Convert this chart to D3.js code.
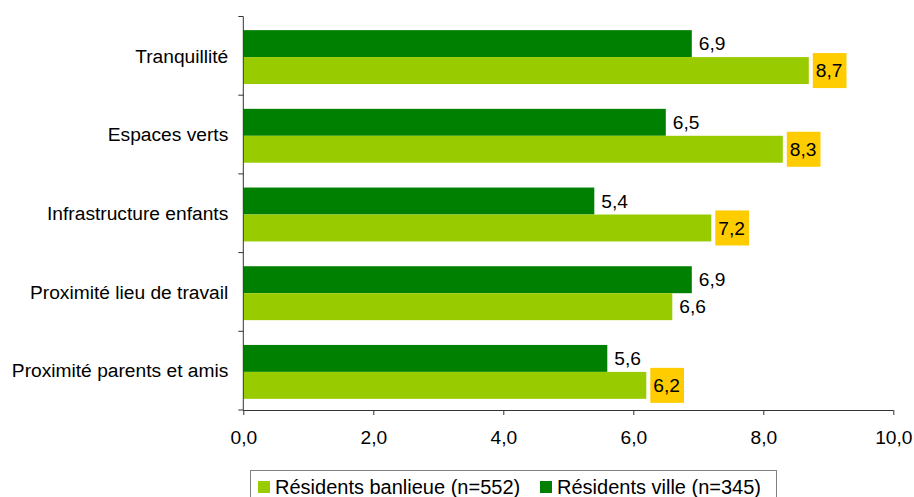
<!DOCTYPE html>
<html>
<head>
<meta charset="utf-8">
<script src="https://cdn.jsdelivr.net/npm/d3@7"></script>
<style>
  html, body { margin: 0; padding: 0; background: #fff; }
  svg { display: block; font-family: "Liberation Sans", Arial, sans-serif; }
</style>
</head>
<body>
<svg id="chart" width="914" height="497"></svg>
<script>
// Motifs de choix du lieu de résidence (note moyenne sur 10)
const categories = [
  "Tranquillité",
  "Espaces verts",
  "Infrastructure enfants",
  "Proximité lieu de travail",
  "Proximité parents et amis"
];
const villeValues    = [6.9, 6.5, 5.4, 6.9, 5.6];
const banlieueValues = [8.7, 8.3, 7.2, 6.6, 6.2];
const xTicks = [0, 2, 4, 6, 8, 10];
const seriesNames = ["Résidents banlieue (n=552)", "Résidents ville (n=345)"];

const colors = { ville: "#008000", banlieue: "#99CC00", highlight: "#FFCC00" };
const fontSize = 19.2;
const legendFontSize = 20;

const svg = d3.select("#chart");
const plotLeft = 243.3, plotRight = 893.3, plotTop = 16.5, plotBottom = 410;

const x = d3.scaleLinear().domain([0, 10]).range([plotLeft, plotRight]);
const y0 = d3.scaleBand().domain(categories).range([plotTop, plotBottom]).padding(0);
const y1 = d3.scaleBand().domain(["ville", "banlieue"])
  .range([0, y0.bandwidth()]).paddingInner(0).paddingOuter(0.46).align(0.55);

const fmt = v => d3.format(".1f")(v).replace(".", ",");

const rows = categories.map((c, i) => ({
  cat: c, ville: villeValues[i], banlieue: banlieueValues[i]
}));

// Barres
const groups = svg.append("g").selectAll("g").data(rows).join("g")
  .attr("transform", d => `translate(0,${y0(d.cat)})`);

["ville", "banlieue"].forEach(key => {
  groups.append("rect")
    .attr("x", x(0))
    .attr("y", y1(key))
    .attr("width", d => x(d[key]) - x(0))
    .attr("height", y1.bandwidth())
    .attr("fill", colors[key]);
});

// Étiquettes de valeur
groups.append("text")
  .attr("x", d => x(d.ville) + 7)
  .attr("y", y1("ville") + y1.bandwidth() / 2)
  .attr("dy", "0.35em")
  .attr("font-size", fontSize)
  .attr("fill", "#000")
  .text(d => fmt(d.ville));

groups.each(function(d) {
  const g = d3.select(this);
  const cy = y1("banlieue") + y1.bandwidth() / 2;
  const bg = g.append("rect").attr("fill", colors.highlight);
  const t = g.append("text")
    .attr("x", x(d.banlieue) + 7)
    .attr("y", cy)
    .attr("dy", "0.35em")
    .attr("font-size", fontSize)
    .attr("fill", "#000")
    .text(fmt(d.banlieue));
  if (d.banlieue > d.ville) {
    const bb = t.node().getBBox();
    bg.attr("x", bb.x - 3).attr("y", cy - 17.5)
      .attr("width", bb.width + 7).attr("height", 35);
  } else {
    bg.remove();
  }
});

// Axe des abscisses
const xAxis = svg.append("g")
  .attr("transform", `translate(0,${plotBottom})`)
  .call(d3.axisBottom(x).tickValues(xTicks).tickSize(5).tickPadding(15).tickFormat(fmt));
xAxis.select(".domain").attr("stroke", "#333").attr("d", `M${plotLeft},0.5H${plotRight}`);
xAxis.selectAll(".tick line").attr("stroke", "#333");
xAxis.selectAll(".tick text").attr("font-size", fontSize).attr("font-family", "Liberation Sans, Arial, sans-serif").attr("fill", "#000");

// Axe des ordonnées
const yAxis = svg.append("g").attr("transform", `translate(${plotLeft},0)`);
yAxis.append("line")
  .attr("x1", 0).attr("x2", 0).attr("y1", plotTop).attr("y2", plotBottom)
  .attr("stroke", "#333");
const boundaries = categories.map(c => y0(c)).concat([plotBottom]);
yAxis.selectAll("line.tk").data(boundaries).join("line")
  .attr("class", "tk")
  .attr("x1", -5).attr("x2", 0)
  .attr("y1", d => d).attr("y2", d => d)
  .attr("stroke", "#333");
yAxis.selectAll("text").data(categories).join("text")
  .attr("x", -15)
  .attr("y", d => y0(d) + y0.bandwidth() / 2)
  .attr("dy", "0.35em")
  .attr("text-anchor", "end")
  .attr("font-size", fontSize)
  .attr("fill", "#000")
  .text(d => d);

// Légende
const legend = svg.append("g");
legend.append("rect")
  .attr("x", 250.5).attr("y", 470.5).attr("width", 526).attr("height", 40)
  .attr("fill", "#fff").attr("stroke", "#808080");
const legendItems = [
  { name: seriesNames[0], color: colors.banlieue, x: 258 },
  { name: seriesNames[1], color: colors.ville, x: 540 }
];
legendItems.forEach(it => {
  legend.append("rect").attr("x", it.x).attr("y", 481).attr("width", 12).attr("height", 12)
    .attr("fill", it.color);
  legend.append("text").attr("x", it.x + 17).attr("y", 494)
    .attr("font-size", legendFontSize).attr("fill", "#000").text(it.name);
});
</script>
</body>
</html>
